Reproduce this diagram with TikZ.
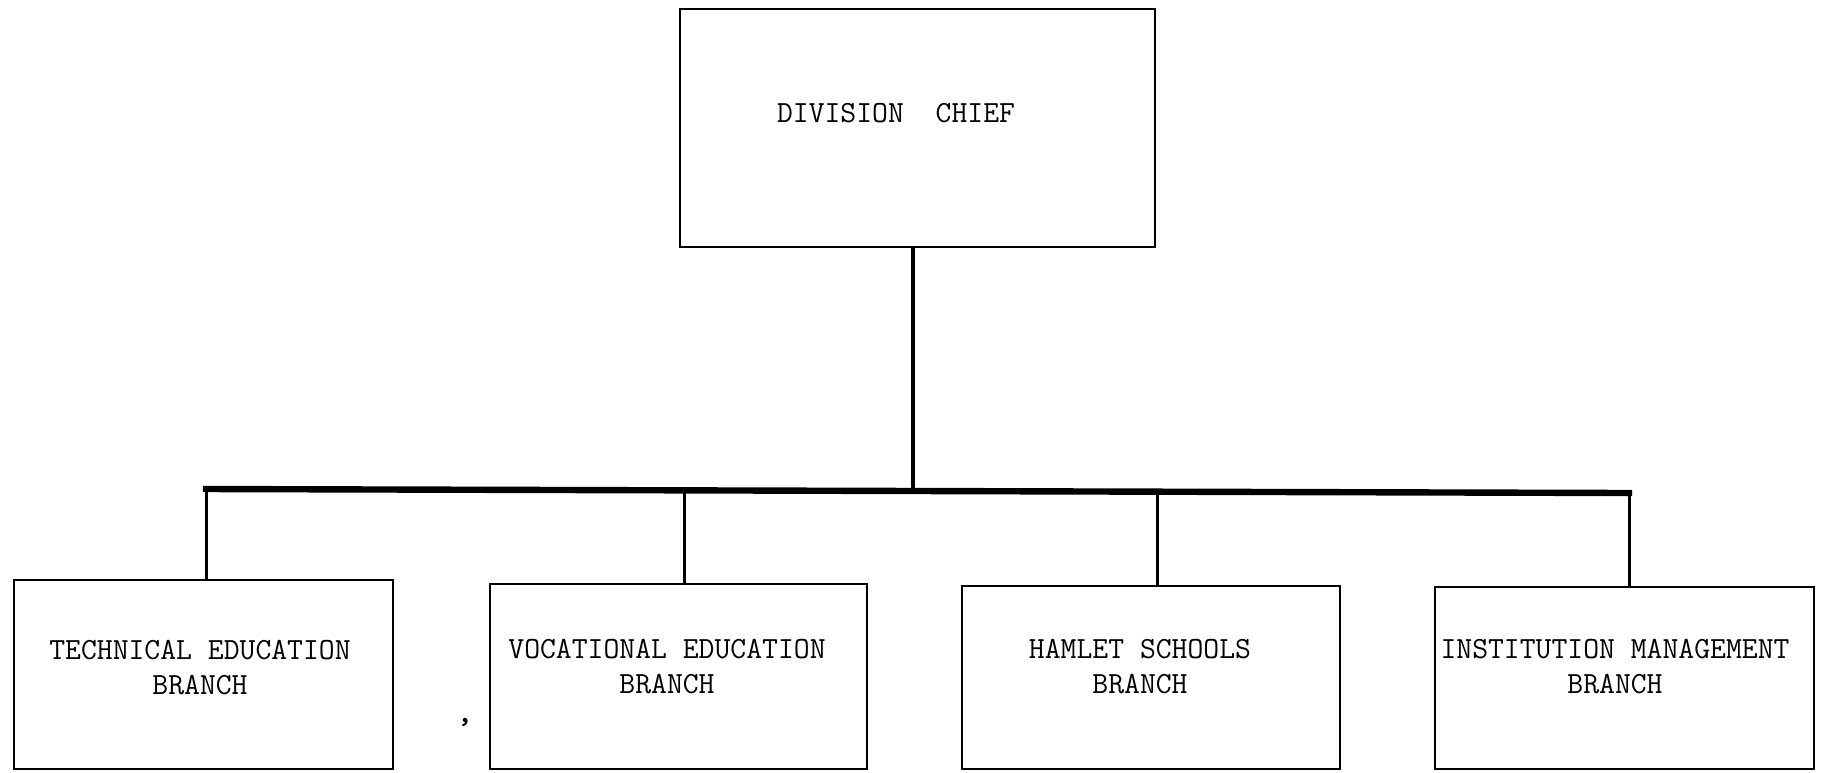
\documentclass[tikz,border=0pt]{standalone}
\begin{document}
\begin{tikzpicture}[x=0.5pt,y=-0.5pt,
  box/.style={draw, line width=1pt, rectangle, inner sep=0pt},
  lbl/.style={font=\ttfamily\fontsize{15.4}{17.5}\selectfont, align=center, inner sep=0pt},
  trunk/.style={line width=2.4pt},
  bus/.style={line width=3.2pt, line cap=rect},
  drop/.style={line width=1.5pt}]
\useasboundingbox (0,0) rectangle (1824,772);
% boxes
\node[box, minimum width=237.5pt, minimum height=119pt] (chief) at (917.5,128) {};
\node[box, minimum width=189.5pt, minimum height=94.5pt] (c1) at (203.5,674.5) {};
\node[box, minimum width=188.5pt, minimum height=92.5pt] (c2) at (678.5,676.5) {};
\node[box, minimum width=189pt, minimum height=91.5pt] (c3) at (1151,677.5) {};
\node[box, minimum width=189.5pt, minimum height=91pt] (c4) at (1624.5,678) {};
% labels
\node[lbl] (t0) at (896,113) {DIVISION\ \ CHIEF};
\node[lbl] (t1) at (200,668) {TECHNICAL EDUCATION\\BRANCH};
\node[lbl] (t2) at (667,667) {VOCATIONAL EDUCATION\\BRANCH};
\node[lbl] (t3) at (1140,667) {HAMLET SCHOOLS\\BRANCH};
\node[lbl] (t4) at (1615,667) {INSTITUTION MANAGEMENT\\BRANCH};
\node[lbl] (mark) at (465,722) {\bfseries ,};
% connectors
\coordinate (j) at (913,490);
\coordinate (b1) at (206,489);
\coordinate (b2) at (684,490);
\coordinate (b3) at (1157,492);
\coordinate (b4) at (1629,493);
\draw[trunk] (chief.south -| j) -- (j);
\draw[bus] (b1) -- (b4);
\draw[drop] (b1) -- (b1 |- c1.north);
\draw[drop] (b2) -- (b2 |- c2.north);
\draw[drop] (b3) -- (b3 |- c3.north);
\draw[drop] (b4) -- (b4 |- c4.north);
\end{tikzpicture}
\end{document}
